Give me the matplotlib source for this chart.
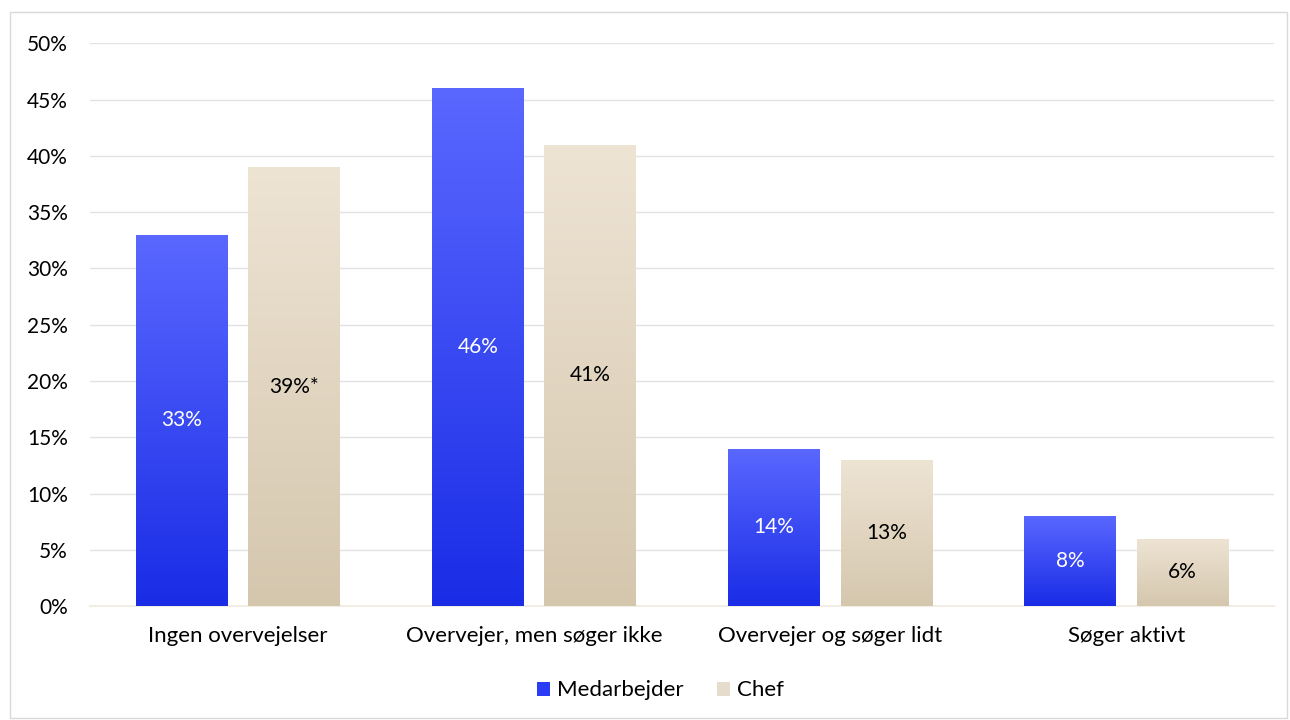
import numpy as np
import matplotlib.pyplot as plt
from matplotlib.colors import LinearSegmentedColormap
from matplotlib.patches import Rectangle, Patch

categories = ["Ingen overvejelser", "Overvejer, men søger ikke",
              "Overvejer og søger lidt", "Søger aktivt"]
medarbejder = [33, 46, 14, 8]
chef = [39, 41, 13, 6]
chef_labels = ["39%*", "41%", "13%", "6%"]
yticks = [0, 5, 10, 15, 20, 25, 30, 35, 40, 45, 50]

plt.rcParams["font.family"] = ["Lato", "DejaVu Sans"]

blue_cmap = LinearSegmentedColormap.from_list("b", ["#1a2ce6", "#5a68ff"])
beige_cmap = LinearSegmentedColormap.from_list("c", ["#d5c7ae", "#eee4d4"])
grad = np.linspace(0, 1, 256).reshape(-1, 1)


def gradient_bars(ax, bars, cmap):
    for b in bars:
        x0, w, h = b.get_x(), b.get_width(), b.get_height()
        im = ax.imshow(grad, cmap=cmap, origin="lower", aspect="auto",
                       extent=(x0, x0 + w, 0, h), zorder=3)
        im.set_clip_path(b)
        b.set_facecolor("none")


fig = plt.figure(figsize=(12.9, 7.2), dpi=100)
fig.patches.append(Rectangle((10 / 1290, 2 / 720), 1277 / 1290, 706 / 720,
                             transform=fig.transFigure, fill=False,
                             edgecolor="#d9d9d9", linewidth=1))
ax = fig.add_axes([0.0698, 0.158, 0.918, 0.782])

x = np.arange(len(categories))
w = 0.31
off = 0.19
b1 = ax.bar(x - off, medarbejder, w, zorder=3, linewidth=0)
b2 = ax.bar(x + off, chef, w, zorder=3, linewidth=0)
gradient_bars(ax, b1, blue_cmap)
gradient_bars(ax, b2, beige_cmap)

for xi, v in zip(x, medarbejder):
    ax.text(xi - off, v / 2, f"{v}%", ha="center", va="center",
            color="white", fontsize=15, zorder=4)
for xi, v, lab in zip(x, chef, chef_labels):
    ax.text(xi + off, v / 2, lab, ha="center", va="center",
            color="black", fontsize=15, zorder=4)

ax.set_xlim(-0.5, 3.5)
ax.set_ylim(0, 50)
ax.set_yticks(yticks)
ax.set_yticklabels([f"{t}%" for t in yticks], fontsize=15)
ax.set_xticks(x)
ax.set_xticklabels(categories, fontsize=16)
ax.tick_params(axis="y", length=0, pad=16)
ax.tick_params(axis="x", length=0, pad=14)
ax.grid(axis="y", color="#e3e3e3", linewidth=1, zorder=0)
for s in ["top", "right", "left"]:
    ax.spines[s].set_visible(False)
ax.spines["bottom"].set_color("#f2ede4")
ax.spines["bottom"].set_linewidth(1.5)

handles = [Patch(facecolor="#2a3cf5", label="Medarbejder"),
           Patch(facecolor="#e6dccb", label="Chef")]
fig.legend(handles=handles, loc="center", bbox_to_anchor=(0.512, 0.041),
           ncol=2, frameon=False, fontsize=16, handlelength=0.6,
           handleheight=0.6, handletextpad=0.3, columnspacing=1.5)

fig.savefig("out.png", dpi=100)
